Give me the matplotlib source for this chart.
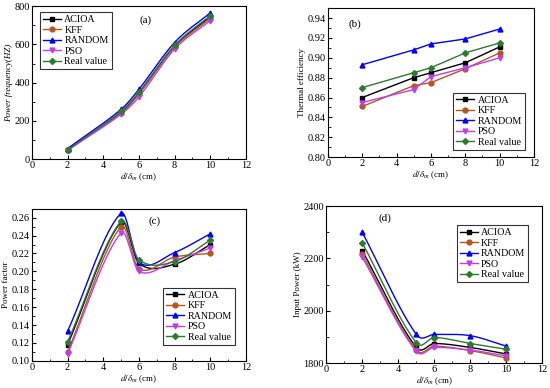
import matplotlib
matplotlib.use("Agg")
import matplotlib.pyplot as plt
import numpy
from matplotlib.ticker import MultipleLocator

plt.rcParams['font.family'] = ['Liberation Serif', 'DejaVu Serif']
plt.rcParams['mathtext.fontset'] = 'stix'

x = [2, 5, 6, 8, 10]
names = ['ACIOA', 'KFF', 'RANDOM', 'PSO', 'Real value']
colors = ['#000000', '#b5561f', '#0000ff', '#c03cf0', '#2e7a2e']
markers = ['s', 'o', '^', 'v', 'D']

freq = {
    'ACIOA': [50, 245, 345, 590, 745],
    'KFF': [50, 240, 340, 585, 735],
    'RANDOM': [55, 260, 365, 610, 765],
    'PSO': [45, 235, 325, 575, 725],
    'Real value': [48, 250, 350, 595, 750],
}
eff = {
    'ACIOA': [0.860, 0.880, 0.885, 0.895, 0.911],
    'KFF': [0.851, 0.872, 0.875, 0.889, 0.905],
    'RANDOM': [0.893, 0.908, 0.914, 0.919, 0.929],
    'PSO': [0.855, 0.868, 0.881, 0.890, 0.900],
    'Real value': [0.870, 0.885, 0.890, 0.905, 0.915],
}
pf = {
    'ACIOA': [0.118, 0.255, 0.209, 0.208, 0.230],
    'KFF': [0.110, 0.250, 0.203, 0.216, 0.220],
    'RANDOM': [0.133, 0.265, 0.210, 0.221, 0.242],
    'PSO': [0.108, 0.243, 0.200, 0.212, 0.226],
    'Real value': [0.121, 0.256, 0.213, 0.211, 0.235],
}
power = {
    'ACIOA': [2230, 1860, 1875, 1860, 1835],
    'KFF': [2215, 1850, 1865, 1848, 1820],
    'RANDOM': [2300, 1910, 1910, 1905, 1865],
    'PSO': [2205, 1845, 1860, 1850, 1828],
    'Real value': [2260, 1878, 1898, 1875, 1853],
}


def smooth_line(xs, ys, n=40):
    # Catmull-Rom style hermite curve, only used to draw the line between points
    xs = numpy.asarray(xs, float)
    ys = numpy.asarray(ys, float)
    k = len(xs)
    m = numpy.zeros(k)
    m[0] = (ys[1] - ys[0]) / (xs[1] - xs[0])
    m[-1] = (ys[-1] - ys[-2]) / (xs[-1] - xs[-2])
    for i in range(1, k - 1):
        m[i] = (ys[i + 1] - ys[i - 1]) / (xs[i + 1] - xs[i - 1])
    xx_all, yy_all = [], []
    for i in range(k - 1):
        h = xs[i + 1] - xs[i]
        t = numpy.linspace(0, 1, n)
        h00 = 2 * t ** 3 - 3 * t ** 2 + 1
        h10 = t ** 3 - 2 * t ** 2 + t
        h01 = -2 * t ** 3 + 3 * t ** 2
        h11 = t ** 3 - t ** 2
        yy = h00 * ys[i] + h10 * h * m[i] + h01 * ys[i + 1] + h11 * h * m[i + 1]
        xx_all.append(xs[i] + t * h)
        yy_all.append(yy)
    return numpy.concatenate(xx_all), numpy.concatenate(yy_all)


def panel(ax, data, smooth, ylim, ystep, ylabel, tag, tagpos, legloc, legbox,
          fmt=None, ystyle='normal'):
    for name, col, mk in zip(names, colors, markers):
        ys = data[name]
        if smooth:
            xx, yy = smooth_line(x, ys)
            ax.plot(xx, yy, color=col, lw=1.0)
        else:
            ax.plot(x, ys, color=col, lw=1.0)
        ms = 3.0 if mk == 'D' else 3.5
        ax.plot(x, ys, linestyle='none', marker=mk, color=col, ms=ms)
        ax.plot([], [], color=col, marker=mk, ms=ms, lw=1.0, label=name)
    ax.set_xlim(0, 12)
    ax.set_ylim(*ylim)
    ax.xaxis.set_major_locator(MultipleLocator(2))
    ax.xaxis.set_minor_locator(MultipleLocator(1))
    ax.yaxis.set_major_locator(MultipleLocator(ystep))
    ax.yaxis.set_minor_locator(MultipleLocator(ystep / 2))
    ax.tick_params(which='both', direction='in', labelsize=7.5, pad=1.5)
    ax.tick_params(which='major', length=3)
    ax.tick_params(which='minor', length=1.8)
    if fmt:
        ax.yaxis.set_major_formatter(fmt)
    ax.set_xlabel(r'$d/\delta_m$ (cm)', fontsize=6.5, labelpad=0)
    ax.set_ylabel(ylabel, fontsize=6.5, labelpad=1, style=ystyle)
    ax.text(tagpos[0], tagpos[1], tag, transform=ax.transAxes, fontsize=8,
            ha='center', va='center')
    leg = ax.legend(loc=legloc, bbox_to_anchor=legbox, fontsize=7.2, frameon=True,
                    fancybox=False, edgecolor='black', handlelength=1.8,
                    handletextpad=0.35, labelspacing=0.15, borderpad=0.3,
                    borderaxespad=0)
    leg.get_frame().set_linewidth(0.8)
    for s in ax.spines.values():
        s.set_linewidth(0.8)


fig = plt.figure(figsize=(5.5, 3.88), dpi=100)
ax1 = fig.add_axes([0.058, 0.590, 0.389, 0.394])
ax2 = fig.add_axes([0.596, 0.595, 0.375, 0.384])
ax3 = fig.add_axes([0.058, 0.070, 0.389, 0.392])
ax4 = fig.add_axes([0.593, 0.064, 0.393, 0.405])

panel(ax1, freq, True, (0, 800), 200, 'Power frequency(HZ)', '(a)', (0.53, 0.91),
      'upper left', (0.037, 0.96), ystyle='italic')
panel(ax2, eff, False, (0.80, 0.95), 0.02, 'Thermal efficiency', '(b)', (0.13, 0.89),
      'lower right', (0.955, 0.05), fmt='{x:.2f}')
panel(ax3, pf, True, (0.10, 0.27), 0.02, 'Power factor', '(c)', (0.575, 0.92),
      'lower right', (0.95, 0.105), fmt='{x:.2f}')
panel(ax4, power, True, (1800, 2400), 200, 'Input Power (kW)', '(d)', (0.27, 0.92),
      'upper right', (0.935, 0.879))

fig.savefig('out.png', dpi=100)
